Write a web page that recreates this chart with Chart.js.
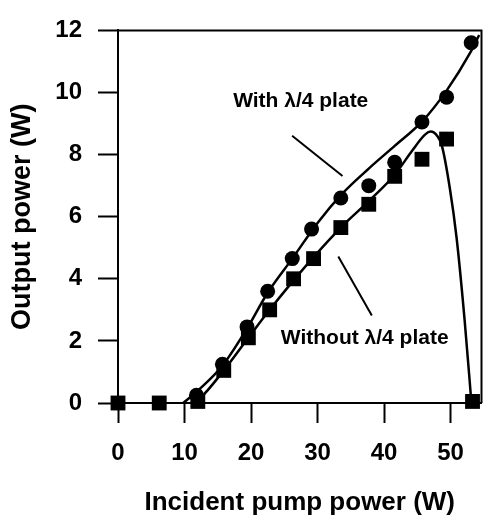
<!DOCTYPE html>
<html>
<head>
<meta charset="utf-8">
<script src="https://cdn.jsdelivr.net/npm/chart.js@4.4.1/dist/chart.umd.min.js"></script>
<style>
  html, body { margin: 0; padding: 0; background: #fff; }
  canvas { display: block; }
</style>
</head>
<body>
<canvas id="c" width="492" height="516"></canvas>
<script>
// ---- data ----
const withPump      = [11.8, 15.7, 19.4, 22.5, 26.2, 29.1, 33.5, 37.7, 41.6, 45.7, 49.4, 53.1];
const withOutput    = [0.25, 1.25, 2.45, 3.6, 4.65, 5.6, 6.6, 7.0, 7.75, 9.05, 9.85, 11.6];
const withoutPump   = [0, 6.2, 12.0, 15.9, 19.6, 22.8, 26.4, 29.4, 33.5, 37.7, 41.6, 45.7, 49.4, 53.3];
const withoutOutput = [0, 0, 0.05, 1.05, 2.1, 3.0, 4.0, 4.65, 5.65, 6.4, 7.3, 7.85, 8.5, 0.05];
// fitted curves
const withFitPump   = [9.8, 12, 15.7, 19.4, 22.5, 26.2, 30, 33.75, 37.7, 41.6, 45.7, 49.4, 53, 54.3];
const withFitOut    = [0, 0.4, 1.2, 2.4, 3.55, 4.65, 5.8, 6.75, 7.55, 8.28, 9.06, 10.06, 11.3, 11.85];
const withoutFitPump = [11, 12.3, 15.9, 19.6, 22.8, 26.4, 29.4, 33.5, 37.7, 41.6, 44.3, 46.2, 47, 48, 48.7, 49.9, 50.9, 52.1, 53.1];
const withoutFitOut  = [0, 0.15, 1.05, 2.1, 3.0, 3.95, 4.7, 5.65, 6.5, 7.35, 8.15, 8.65, 8.74, 8.6, 8.28, 6.9, 5.33, 2.7, 0.1];
const xTicks = [0, 10, 20, 30, 40, 50];
const yTicks = [0, 2, 4, 6, 8, 10, 12];
const labelWith = 'With \u03bb/4 plate';
const labelWithout = 'Without \u03bb/4 plate';
const xTitle = 'Incident pump power (W)';
const yTitle = 'Output power (W)';

const pts = (xs, ys) => xs.map((x, i) => ({ x: x, y: ys[i] }));
const FONT = "'Liberation Sans', Arial, Helvetica, sans-serif";

const annotPlugin = {
  id: 'annot',
  afterDatasetsDraw(chart) {
    const ctx = chart.ctx, xs = chart.scales.x, ys = chart.scales.y, a = chart.chartArea;
    ctx.save();
    // frame top & right
    ctx.strokeStyle = '#000';
    ctx.lineWidth = 2;
    ctx.beginPath();
    ctx.moveTo(a.left, a.top);
    ctx.lineTo(a.right, a.top);
    ctx.lineTo(a.right, a.bottom);
    ctx.stroke();
    // leader lines
    const seg = (x1, y1, x2, y2) => {
      ctx.beginPath();
      ctx.moveTo(xs.getPixelForValue(x1), ys.getPixelForValue(y1));
      ctx.lineTo(xs.getPixelForValue(x2), ys.getPixelForValue(y2));
      ctx.stroke();
    };
    seg(26.18, 8.61, 33.75, 7.31);
    seg(33.12, 4.72, 38.16, 2.82);
    ctx.fillStyle = '#000';
    ctx.font = 'bold 21px ' + FONT;
    ctx.textAlign = 'center';
    ctx.textBaseline = 'middle';
    ctx.fillText(labelWith, xs.getPixelForValue(27.47), ys.getPixelForValue(9.72));
    ctx.fillText(labelWithout, xs.getPixelForValue(37.09), ys.getPixelForValue(2.08));
    ctx.restore();
  }
};

new Chart(document.getElementById('c'), {
  type: 'scatter',
  data: {
    datasets: [
      { label: 'fit with', type: 'line', data: pts(withFitPump, withFitOut), borderColor: '#000', borderWidth: 2.5,
        pointRadius: 0, cubicInterpolationMode: 'monotone', fill: false, clip: false },
      { label: 'fit without', type: 'line', data: pts(withoutFitPump, withoutFitOut), borderColor: '#000', borderWidth: 2.5,
        pointRadius: 0, cubicInterpolationMode: 'monotone', fill: false, clip: false },
      { label: labelWith, data: pts(withPump, withOutput), pointStyle: 'circle', pointRadius: 7.5,
        backgroundColor: '#000', borderColor: '#000', borderWidth: 0, clip: false },
      { label: labelWithout, data: pts(withoutPump, withoutOutput), pointStyle: 'rect', pointRadius: 10.5,
        backgroundColor: '#000', borderColor: '#000', borderWidth: 0, clip: false }
    ]
  },
  options: {
    responsive: false,
    animation: false,
    events: [],
    layout: { padding: { left: 0, right: 1, top: 21, bottom: 0 } },
    plugins: { legend: { display: false }, tooltip: { enabled: false } },
    scales: {
      x: {
        type: 'linear', min: 0, max: 54.65,
        afterFit(s) { s.height = 113; },
        afterBuildTicks(s) { s.ticks = xTicks.map(v => ({ value: v })); },
        ticks: { color: '#000', padding: 16, font: { family: FONT, size: 24, weight: 'bold' } },
        grid: { display: true, drawOnChartArea: false, drawTicks: true, tickLength: 20, tickColor: '#000', tickWidth: 2 },
        border: { display: true, color: '#000', width: 2 },
        title: { display: true, text: xTitle, color: '#000', padding: { top: 0, bottom: 0 },
                 font: { family: FONT, size: 26, weight: 'bold', lineHeight: 1 } }
      },
      y: {
        type: 'linear', min: 0, max: 12,
        afterFit(s) { s.width = 118; },
        afterBuildTicks(s) { s.ticks = yTicks.map(v => ({ value: v })); },
        ticks: { color: '#000', padding: 16, font: { family: FONT, size: 24, weight: 'bold' } },
        grid: { display: true, drawOnChartArea: false, drawTicks: true, tickLength: 20, tickColor: '#000', tickWidth: 2 },
        border: { display: true, color: '#000', width: 2 },
        title: { display: true, text: yTitle, color: '#000', padding: { top: 9, bottom: 0 },
                 font: { family: FONT, size: 27, weight: 'bold', lineHeight: 1 } }
      }
    }
  },
  plugins: [annotPlugin]
});
</script>
</body>
</html>
